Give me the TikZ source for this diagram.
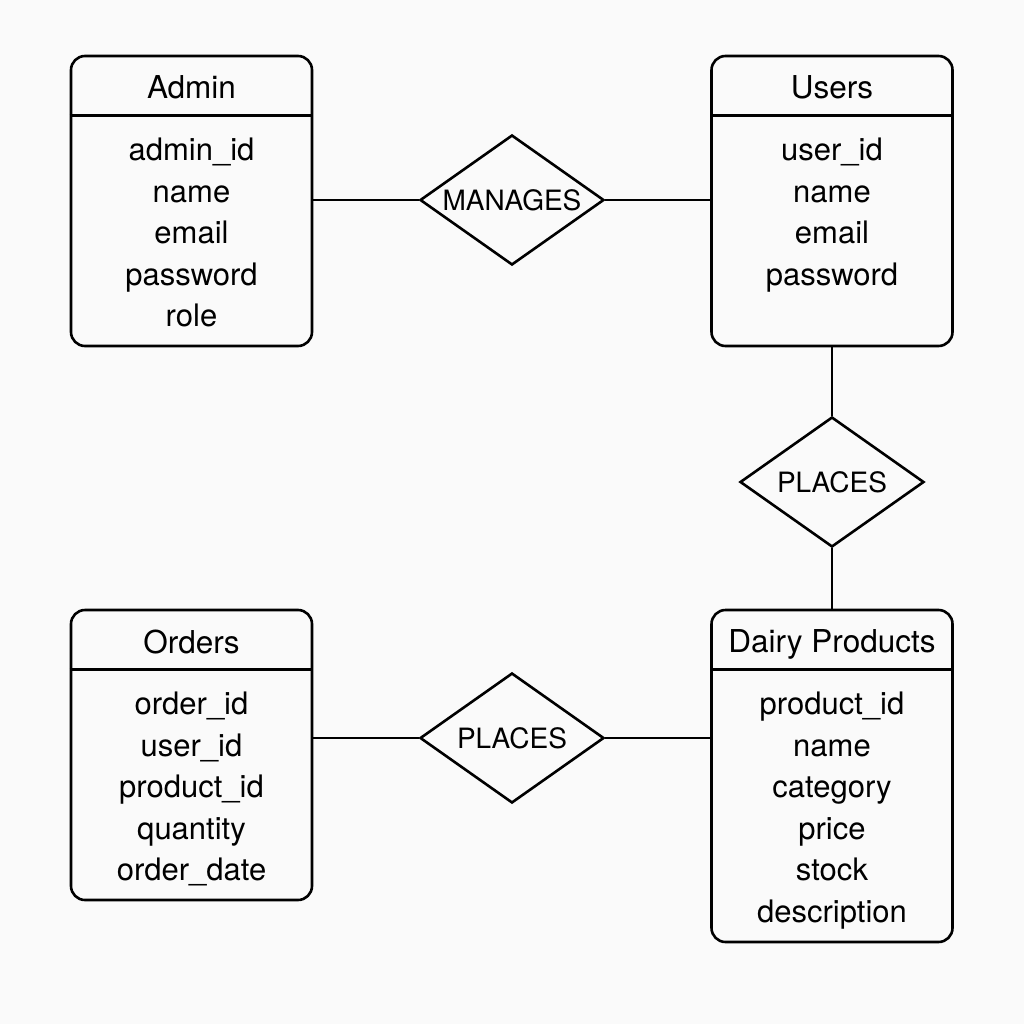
\documentclass[tikz,border=0pt]{standalone}
\usepackage{fontspec}
\setmainfont{TeX Gyre Heros}
\usetikzlibrary{positioning}
\usetikzlibrary{shapes.geometric}

\definecolor{paper}{RGB}{250,250,250}

\tikzset{
    entity/.style={draw, line width=2.6pt, rounded corners=14pt, minimum width=241pt},
    title/.style={inner sep=0pt, font=\fontsize{31.5}{38}\selectfont},
    attrs/.style={inner sep=0pt, align=center, font=\fontsize{31}{41.6}\selectfont},
    relation/.style={draw, diamond, aspect=1.42, line width=2.6pt, inner sep=0pt, minimum width=184pt, minimum height=130pt, font=\fontsize{28}{33}\selectfont},
    link/.style={line width=2.6pt}
}

\begin{document}
\begin{tikzpicture}[x=1pt, y=-1pt]
    \fill [paper] (0,0) rectangle (1024,1024);
    \useasboundingbox (0,0) rectangle (1024,1024);

    % entities
    \node [entity, minimum height=290pt] (admin) at (191.5,201) {};
    \node [entity, minimum height=290pt] (users) at (832,201) {};
    \node [entity, minimum height=290pt] (orders) at (191.5,755) {};
    \node [entity, minimum height=332pt] (products) at (832,776) {};

    \node [title] (admin title) [below=21pt of admin.north] {Admin};
    \node [title] (users title) [below=21pt of users.north] {Users};
    \node [title] (orders title) [below=21pt of orders.north] {Orders};
    \node [title] (products title) [below=21pt of products.north] {Dairy Products};

    \node [attrs] (admin attrs) [below=83pt of admin.north] {admin\_id\\name\\email\\password\\role};
    \node [attrs] (users attrs) [below=83pt of users.north] {user\_id\\name\\email\\password};
    \node [attrs] (orders attrs) [below=83pt of orders.north] {order\_id\\user\_id\\product\_id\\quantity\\order\_date};
    \node [attrs] (products attrs) [below=83pt of products.north] {product\_id\\name\\category\\price\\stock\\description};

    \foreach \e in {admin, users, orders, products}
        \draw [link] ([yshift=-61pt]\e.north west) -- ([yshift=-61pt]\e.north east);

    % relationships
    \node [relation] (manages) at (512,200) {MANAGES};
    \node [relation] (places) at (832,482) {PLACES};
    \node [relation] (placeorder) at (512,738) {PLACES};

    \draw [link] (manages.west) -- (manages.west -| admin.east);
    \draw [link] (manages.east) -- (manages.east -| users.west);
    \draw [link] (users.south) -- (places.north);
    \draw [link] (places.south) -- (products.north);
    \draw [link] (placeorder.west) -- (placeorder.west -| orders.east);
    \draw [link] (placeorder.east) -- (placeorder.east -| products.west);
\end{tikzpicture}
\end{document}
